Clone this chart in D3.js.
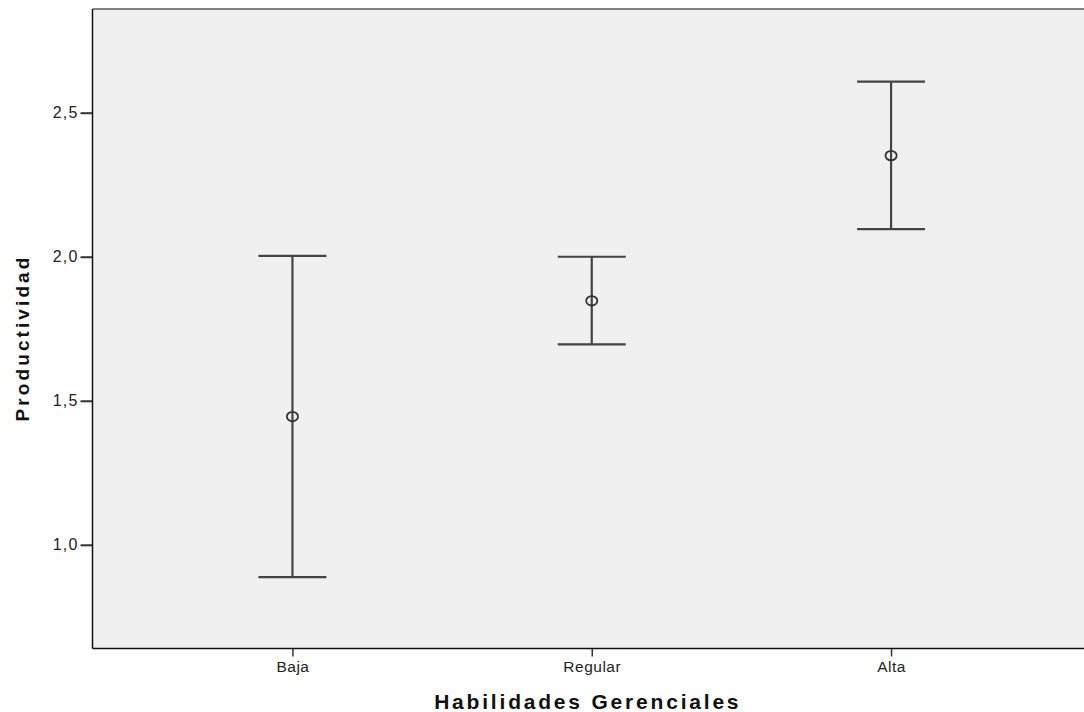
<!DOCTYPE html>
<html>
<head>
<meta charset="utf-8">
<script src="https://cdn.jsdelivr.net/npm/d3@7"></script>
<style>
  body { margin: 0; background: #fff; }
  svg { display: block; }
  text { font-family: "Liberation Sans", Arial, sans-serif; fill: #111; }
</style>
</head>
<body>
<div id="chart"></div>
<script>
// data
var categories = ['Baja', 'Regular', 'Alta'];
var means = [1.445, 1.847, 2.351];
var lower = [0.888, 1.696, 2.096];
var upper = [2.003, 2.000, 2.608];
var yTicks = [1.0, 1.5, 2.0, 2.5];

var width = 1084, height = 712;
var plotLeft = 92.5, plotTop = 9, plotBottom = 648.5, plotRight = 1091;

var svg = d3.select('#chart')
    .append('svg')
    .attr('width', width)
    .attr('height', height);

var x = d3.scalePoint()
    .domain(categories)
    .range([plotLeft, plotRight])
    .padding(0.668);

var y = d3.scaleLinear()
    .domain([0.64, 2.86])
    .range([plotBottom, plotTop]);

// plot background
svg.append('rect')
    .attr('x', plotLeft)
    .attr('y', plotTop)
    .attr('width', plotRight - plotLeft)
    .attr('height', plotBottom - plotTop)
    .attr('fill', '#f0f0f0');

// top frame line
svg.append('line')
    .attr('x1', plotLeft).attr('x2', plotRight)
    .attr('y1', plotTop).attr('y2', plotTop)
    .attr('stroke', '#808080')
    .attr('stroke-width', 2);

var data = categories.map(function(c, i) {
  return { cat: c, mean: means[i], lo: lower[i], hi: upper[i] };
});

var g = svg.selectAll('.bar')
    .data(data)
    .enter()
    .append('g')
    .attr('class', 'bar');

var ink = '#444';

g.append('line')
    .attr('x1', function(d) { return x(d.cat); })
    .attr('x2', function(d) { return x(d.cat); })
    .attr('y1', function(d) { return y(d.hi); })
    .attr('y2', function(d) { return y(d.lo); })
    .attr('stroke', ink)
    .attr('stroke-width', 2.2);

g.append('line')
    .attr('x1', function(d) { return x(d.cat) - 34; })
    .attr('x2', function(d) { return x(d.cat) + 34; })
    .attr('y1', function(d) { return y(d.hi); })
    .attr('y2', function(d) { return y(d.hi); })
    .attr('stroke', ink)
    .attr('stroke-width', 2.2);

g.append('line')
    .attr('x1', function(d) { return x(d.cat) - 34; })
    .attr('x2', function(d) { return x(d.cat) + 34; })
    .attr('y1', function(d) { return y(d.lo); })
    .attr('y2', function(d) { return y(d.lo); })
    .attr('stroke', ink)
    .attr('stroke-width', 2.2);

g.append('ellipse')
    .attr('cx', function(d) { return x(d.cat); })
    .attr('cy', function(d) { return y(d.mean); })
    .attr('rx', 5.6)
    .attr('ry', 4.7)
    .attr('fill', 'none')
    .attr('stroke', '#333')
    .attr('stroke-width', 1.8);

// axes
var yAxis = d3.axisLeft(y)
    .tickValues(yTicks)
    .tickSize(12)
    .tickPadding(2)
    .tickFormat(function(d) { return d3.format('.1f')(d).replace('.', ','); });

var xAxis = d3.axisBottom(x)
    .tickSize(8)
    .tickPadding(4);

var ya = svg.append('g')
    .attr('transform', 'translate(' + plotLeft + ',0)')
    .call(yAxis);
ya.select('.domain').remove();
ya.append('line')
    .attr('x1', 0).attr('x2', 0)
    .attr('y1', plotTop).attr('y2', plotBottom)
    .attr('stroke', '#111').attr('stroke-width', 1.5);
ya.selectAll('.tick line').attr('stroke', '#333').attr('stroke-width', 2);
ya.selectAll('.tick text')
    .style('font-size', '16px')
    .style('letter-spacing', '1.2px')
    .style('fill', '#222');

var xa = svg.append('g')
    .attr('transform', 'translate(0,' + plotBottom + ')')
    .call(xAxis);
xa.select('.domain').remove();
xa.append('line')
    .attr('x1', plotLeft).attr('x2', plotRight)
    .attr('y1', 0).attr('y2', 0)
    .attr('stroke', '#111').attr('stroke-width', 1.5);
xa.selectAll('.tick line').attr('stroke', '#333').attr('stroke-width', 1.5);
xa.selectAll('.tick text')
    .style('font-size', '15.5px')
    .style('letter-spacing', '0.5px')
    .style('fill', '#222');

// axis titles
svg.append('text')
    .attr('x', (plotLeft + plotRight) / 2 - 4)
    .attr('y', 709)
    .attr('text-anchor', 'middle')
    .style('font-size', '21px')
    .style('font-weight', 'bold')
    .style('letter-spacing', '2.8px')
    .text('Habilidades Gerenciales');

svg.append('text')
    .attr('transform', 'translate(29,338) rotate(-90)')
    .attr('text-anchor', 'middle')
    .style('font-size', '19px')
    .style('font-weight', 'bold')
    .style('letter-spacing', '3.1px')
    .text('Productividad');
</script>
</body>
</html>
